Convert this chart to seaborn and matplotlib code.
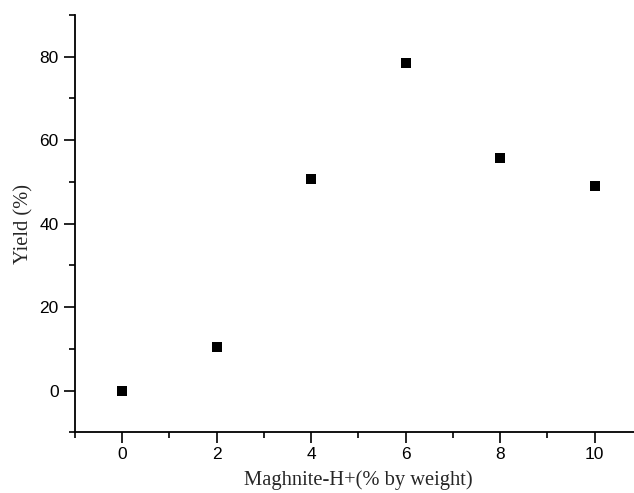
import matplotlib
matplotlib.use("Agg")
import matplotlib.pyplot as plt
from matplotlib.ticker import MultipleLocator
import seaborn as sns
import pandas as pd

# Catalyst loading vs. yield
catalyst_pct = [0, 2, 4, 6, 8, 10]
yield_pct = [0.0, 10.4, 50.8, 78.5, 55.7, 49.0]

df = pd.DataFrame({"catalyst": catalyst_pct, "yield": yield_pct})

sns.set_style("ticks")
plt.rcParams["font.family"] = ["Liberation Sans", "DejaVu Sans"]

fig = plt.figure(figsize=(6.34, 4.93), dpi=100)
ax = fig.add_axes([0.1178, 0.1231, 0.8948, 0.8465])

sns.scatterplot(data=df, x="catalyst", y="yield", marker="s", s=60,
                color="black", edgecolor="black", linewidth=0, ax=ax, clip_on=False)

ax.set_xlim(-1, 11)
ax.set_ylim(-10, 90)
ax.xaxis.set_major_locator(MultipleLocator(2))
ax.xaxis.set_minor_locator(MultipleLocator(1))
ax.yaxis.set_major_locator(MultipleLocator(20))
ax.yaxis.set_minor_locator(MultipleLocator(10))
ax.set_yticks([0, 20, 40, 60, 80])

for side in ("top", "right"):
    ax.spines[side].set_visible(False)
for side in ("left", "bottom"):
    ax.spines[side].set_linewidth(1.3)
    ax.spines[side].set_color("black")

ax.tick_params(which="major", direction="out", length=8, width=1.2,
               labelsize=12.5, colors="black")
ax.tick_params(axis="x", which="major", pad=2.5)
ax.tick_params(axis="y", which="major", pad=3.5)
ax.tick_params(which="minor", direction="out", length=4.5, width=1.2, colors="black")

serif = ["Liberation Serif", "DejaVu Serif"]
ax.set_xlabel("Maghnite-H+(% by weight)", fontsize=14.8, family=serif, labelpad=6)
ax.set_ylabel("Yield (%)", fontsize=14.8, family=serif, labelpad=4)

fig.savefig("out.png", dpi=100)
